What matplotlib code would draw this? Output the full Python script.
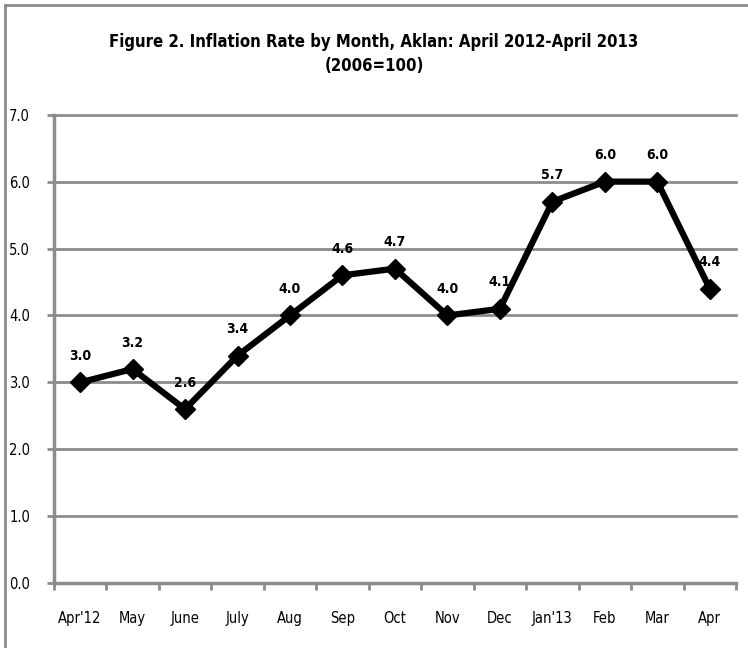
import matplotlib
matplotlib.use("Agg")
import matplotlib.pyplot as plt
from matplotlib.lines import Line2D

# data
months = ["Apr'12", "May", "June", "July", "Aug", "Sep", "Oct",
          "Nov", "Dec", "Jan'13", "Feb", "Mar", "Apr"]
inflation = [3.0, 3.2, 2.6, 3.4, 4.0, 4.6, 4.7, 4.0, 4.1, 5.7, 6.0, 6.0, 4.4]
y_ticks = [0.0, 1.0, 2.0, 3.0, 4.0, 5.0, 6.0, 7.0]

plt.rcParams["font.family"] = ["DejaVu Sans"]
plt.rcParams["font.stretch"] = "condensed"

GRID = "#8c8c8c"

fig = plt.figure(figsize=(7.48, 6.48), dpi=100)
ax = fig.add_axes([0.072, 0.100, 0.912, 0.723])

# chart frame: only the top and left edges show in the cropped reference
fig.add_artist(Line2D([0.007, 1.0], [0.992, 0.992], transform=fig.transFigure,
                      color=GRID, linewidth=2.0))
fig.add_artist(Line2D([0.007, 0.007], [0.0, 0.992], transform=fig.transFigure,
                      color=GRID, linewidth=2.0))

x = list(range(len(months)))
ax.plot(x, inflation, color="black", linewidth=4.5, marker="D", markersize=10.5,
        markerfacecolor="black", markeredgecolor="black", zorder=3)

for xi, v in zip(x, inflation):
    ax.annotate(f"{v:.1f}", (xi, v), xytext=(0, 14), textcoords="offset points",
                ha="center", va="bottom", fontsize=10, fontweight="bold")

ax.set_xlim(-0.5, len(months) - 0.5)
ax.set_ylim(0, 7)
ax.set_yticks(y_ticks)
ax.set_yticklabels([f"{t:.1f}" for t in y_ticks], fontsize=10.5)
ax.set_xticks(x)
ax.set_xticklabels(months, fontsize=10.5)
ax.set_xticks([i + 0.5 for i in range(-1, len(months))], minor=True)
ax.tick_params(axis="x", which="major", length=0, pad=20)
ax.tick_params(axis="x", which="minor", length=5, width=2, color=GRID)
ax.tick_params(axis="y", length=5, width=2, color=GRID, pad=12)

ax.grid(axis="y", color=GRID, linewidth=2)
for gl in ax.get_ygridlines():
    gl.set_clip_on(False)
ax.set_axisbelow(True)
for side in ["top", "right"]:
    ax.spines[side].set_visible(False)
for side in ["left", "bottom"]:
    ax.spines[side].set_color(GRID)
    ax.spines[side].set_linewidth(2.5)

fig.text(0.5, 0.935, "Figure 2. Inflation Rate by Month, Aklan: April 2012-April 2013",
         ha="center", va="center", fontsize=12, fontweight="bold")
fig.text(0.5, 0.898, "(2006=100)", ha="center", va="center", fontsize=12, fontweight="bold")

fig.savefig("out.png", dpi=100)
